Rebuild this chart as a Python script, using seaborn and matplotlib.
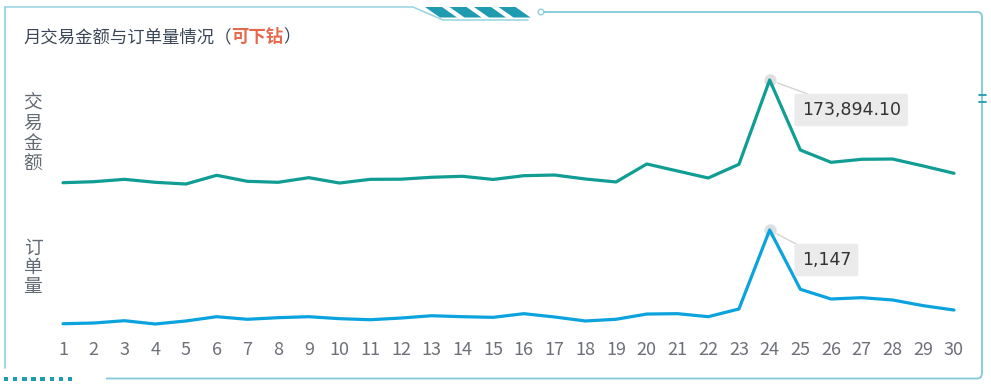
import matplotlib
matplotlib.use("Agg")
import matplotlib.pyplot as plt
import seaborn as sns
import pandas as pd
from matplotlib.patches import Polygon, Rectangle, Circle, PathPatch
from matplotlib.path import Path

# ---------------- data ----------------
days = list(range(1, 31))
amount = [18600, 20100, 23700, 19200, 16600, 29800, 20700, 19200, 26200, 18100,
          23700, 23900, 26800, 28300, 23500, 29200, 30200, 24200, 19700, 46900,
          36300, 25700, 46400, 173894.10, 68000, 49400, 54000, 54400, 43900, 32800]
orders = [93, 101, 127, 90, 124, 172, 143, 161, 172, 150,
          138, 157, 183, 172, 165, 206, 169, 124, 143, 202,
          206, 172, 259, 1147, 480, 371, 386, 360, 296, 247]
title_main = "月交易金额与订单量情况（"
title_hl = "可下钻"
title_end = "）"
ylabel_top = "交易金额"
ylabel_bottom = "订单量"

df = pd.DataFrame({"day": days, "amount": amount, "orders": orders})

sns.set_theme(style="white")
plt.rcParams["font.family"] = ["Noto Sans CJK SC", "DejaVu Sans"]

W, H = 991, 386
fig = plt.figure(figsize=(W / 100, H / 100), dpi=100)
fig.patch.set_facecolor("white")

# background / decoration layer in pixel coordinates
bg = fig.add_axes([0, 0, 1, 1])
bg.set_xlim(0, W)
bg.set_ylim(H, 0)
bg.axis("off")

frame_c = "#96d4de"
dark_c = "#1f9bb0"
# left border
bg.plot([5, 5], [7, 368], color=frame_c, lw=1.3)
# top border with chamfer
bg.plot([5, 413, 443, 528], [7, 7, 20, 20], color=frame_c, lw=1.1)
# stripes
for i in range(4):
    x0 = 425 + 24.5 * i
    bg.add_patch(Polygon([[x0, 7], [x0 + 17, 7], [x0 + 32, 17.5], [x0 + 15, 17.5]],
                         closed=True, fc=dark_c, ec="none"))
# small circle + right/top line with rounded corners
bg.add_patch(Circle((541, 12), 2.8, fc="white", ec=frame_c, lw=1.1))
verts = [(544, 12), (977, 12), (982, 12), (982, 17), (982, 373), (982, 378.5),
         (977, 378.5), (106, 378.5)]
codes = [Path.MOVETO, Path.LINETO, Path.CURVE3, Path.CURVE3, Path.LINETO,
         Path.CURVE3, Path.CURVE3, Path.LINETO]
bg.add_patch(PathPatch(Path(verts, codes), fc="none", ec="#7fcad6", lw=1.3))
# right edge marker
bg.plot([979, 986], [95, 95], color=dark_c, lw=1.3)
bg.plot([979, 986], [101.5, 101.5], color=dark_c, lw=1.3)
# bottom-left dots
for i in range(8):
    bg.add_patch(Rectangle((4 + 9.1 * i, 377), 4.3, 4.3, fc=dark_c, ec="none"))

# title
title_c = "#3a4658"
t1 = bg.text(23, 37, title_main, fontsize=12.5, color=title_c, va="center", ha="left")
t2 = bg.annotate(title_hl, xy=(1, 0), xycoords=t1, va="bottom", ha="left",
                 fontsize=12.5, color="#e5694b", fontweight="bold")
t3 = bg.annotate(title_end, xy=(1, 0), xycoords=t2, va="bottom", ha="left",
                 fontsize=12.5, color=title_c)

# vertical y labels
lab_c = "#646a73"
for i, ch in enumerate(ylabel_top):
    bg.text(33, 103 + 20 * i, ch, fontsize=13.5, color=lab_c, ha="center", va="center")
for i, ch in enumerate(ylabel_bottom):
    bg.text(33, 248.5 + 19 * i, ch, fontsize=13.5, color=lab_c, ha="center", va="center")


def px_axes(l, t, r, b):
    return fig.add_axes([l / W, 1 - b / H, (r - l) / W, (b - t) / H])


step = (954 - 63) / 29
left_px = 63 - 0.5 * step
right_px = 954 + 0.5 * step

ax1 = px_axes(left_px, 70, right_px, 200)
ax2 = px_axes(left_px, 220, right_px, 335)

top_c = "#0f9d94"
bot_c = "#0ba3de"

sns.lineplot(data=df, x="day", y="amount", ax=ax1, color=top_c, linewidth=2.3)
sns.lineplot(data=df, x="day", y="orders", ax=ax2, color=bot_c, linewidth=2.3)

amax = max(amount)
omax = max(orders)
ax1.set_ylim(-0.0435 * amax, 1.087 * amax)
ax2.set_ylim(-0.0294 * omax, 1.098 * omax)

for ax in (ax1, ax2):
    ax.set_xlim(0.5, 30.5)
    ax.set_facecolor("none")
    for s in ax.spines.values():
        s.set_visible(False)
    ax.set_yticks([])
    ax.set_ylabel("")
    ax.set_xlabel("")

ax1.set_xticks([])
ax2.set_xticks(days)
ax2.set_xticklabels([str(d) for d in days])
ax2.tick_params(axis="x", length=0, pad=4, labelsize=13, labelcolor="#6e7079")


def mark_peak(ax, series, fmt, color):
    idx = series.index(max(series))
    x, y = days[idx], series[idx]
    ax.scatter([x], [y], s=80, color="#d8d8d8", alpha=0.8, zorder=1, linewidths=0)
    ax.annotate(fmt.format(y), xy=(x, y), xycoords="data",
                xytext=(32, -30), textcoords="offset pixels",
                ha="left", va="center", fontsize=12.5, color="#333333",
                family="DejaVu Sans",
                bbox=dict(boxstyle="round,pad=0.42,rounding_size=0.15",
                          fc="#ebebeb", ec="none"),
                arrowprops=dict(arrowstyle="-", color="#d4d4d4", lw=1,
                                shrinkA=0, shrinkB=6),
                annotation_clip=False, zorder=5)


mark_peak(ax1, amount, "{:,.2f}", top_c)
mark_peak(ax2, orders, "{:,.0f}", bot_c)

fig.savefig("out.png", dpi=100)
